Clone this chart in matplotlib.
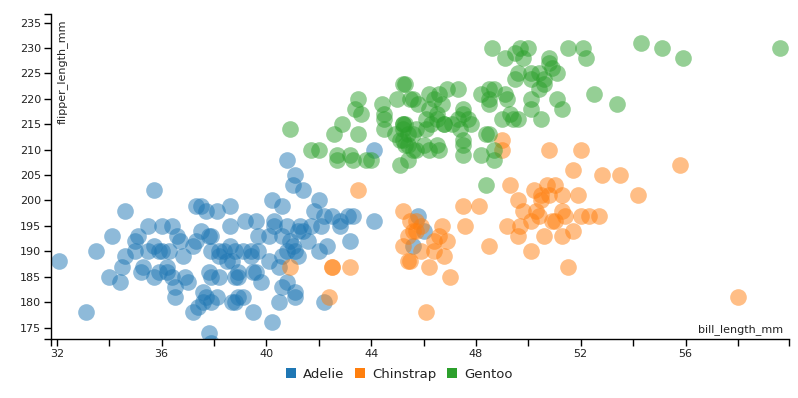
import matplotlib
matplotlib.use("Agg")
import matplotlib.pyplot as plt
from matplotlib.patches import Patch

# values (bill_length_mm, flipper_length_mm)
species = ["Adelie", "Chinstrap", "Gentoo"]
colors = ["#1f77b4", "#ff7f0e", "#2ca02c"]

adelie_bill = [
    32.1, 33.1, 33.5, 34.1, 34.6, 34.0, 34.4, 34.5, 34.6, 35.0, 35.1, 35.2, 35.0, 35.5,
    35.7, 36.0, 36.4, 35.5, 35.7, 35.9, 36.0, 36.3, 35.3, 35.7, 36.2, 36.2, 35.9, 36.6,
    36.7, 36.8, 36.4, 36.5, 36.5, 36.9, 37.0, 37.2, 37.4, 37.6, 37.7, 37.9, 37.6, 38.1,
    37.8, 37.9, 37.2, 37.3, 37.5, 37.8, 37.9, 37.3, 37.5, 37.7, 38.1, 38.6, 38.6, 37.9,
    38.2, 38.4, 38.6, 38.2, 38.5, 37.8, 38.2, 37.9, 38.8, 38.8,
    41.1, 41.0, 41.4, 40.2, 40.6, 42.0, 41.8, 42.2, 42.5, 42.8, 43.1, 43.3, 42.8, 44.1,
    43.2, 42.3, 42.0, 39.2, 39.6, 39.7, 40.3, 40.3, 40.8, 41.3, 41.4, 41.2, 41.7, 42.1,
    40.1, 40.6, 40.9, 41.0, 41.1, 41.2, 41.6, 40.8, 40.6, 38.8, 39.1, 39.4, 39.7, 38.7,
    39.4, 40.1, 40.5, 38.9, 39.5, 39.6, 39.8, 38.9, 40.8, 40.6, 41.1, 41.1, 38.9, 39.1,
    38.7, 40.5, 42.2, 39.5, 40.2, 40.8, 44.1, 45.8, 46.0, 45.6,
]
adelie_flipper = [
    188, 178, 190, 193, 198, 185, 184, 187, 189, 192, 193, 186, 190, 195,
    202, 195, 195, 190, 191, 190, 190, 190, 187, 185, 187, 186, 186, 193,
    192, 189, 185, 183, 181, 185, 184, 178, 179, 180, 181, 180, 182, 181,
    174, 172, 191, 192, 194, 193, 193, 199, 199, 198, 198, 199, 195, 190,
    190, 190, 191, 189, 188, 186, 185, 185, 185, 180,
    205, 203, 202, 200, 199, 200, 198, 197, 197, 196, 197, 197, 195, 196,
    192, 191, 190, 196, 196, 193, 196, 195, 195, 195, 194, 194, 195, 195,
    193, 193, 192, 191, 190, 189, 192, 190, 189, 190, 190, 190, 190, 188,
    189, 188, 187, 186, 186, 186, 184, 185, 184, 183, 182, 181, 181, 181,
    180, 180, 180, 178, 176, 208, 210, 197, 194, 191,
]

chinstrap_bill = [
    43.5, 40.9, 42.5, 42.5, 43.2, 42.4, 45.2, 45.5, 45.6, 45.2, 45.4, 45.7, 45.7, 45.9,
    45.4, 45.9, 45.5, 46.2, 46.7, 46.6, 46.4, 46.9, 46.4, 46.8, 47.0, 46.1, 47.5, 48.1,
    47.6, 48.5, 49.3, 49.6, 50.2, 50.5, 50.7, 51.0, 50.8, 50.5, 51.3, 51.9, 51.7, 49.8,
    50.3, 50.4, 50.1, 49.7, 49.2, 49.6, 50.6, 50.9, 51.0, 51.3, 51.4, 51.3, 51.7, 52.0,
    52.3, 50.1, 51.5, 52.8, 53.5, 54.2, 52.7, 55.8, 58.0, 49.0, 49.0, 50.8, 52.0,
]
chinstrap_flipper = [
    202, 187, 187, 187, 187, 181, 198, 196, 194, 191, 188, 196, 194, 195,
    193, 190, 188, 187, 195, 193, 192, 192, 190, 189, 185, 178, 199, 199,
    195, 191, 203, 200, 202, 201, 203, 203, 201, 200, 201, 201, 206, 198,
    198, 197, 196, 195, 195, 193, 193, 196, 196, 198, 197, 193, 194, 197,
    197, 190, 187, 205, 205, 201, 197, 207, 181, 212, 210, 210, 210,
]

gentoo_bill = [
    48.4, 52.1, 52.2, 54.3, 55.1, 55.9, 59.6, 52.5, 53.4, 48.6, 49.1, 49.5, 49.7, 50.0,
    49.8, 51.5, 50.8, 50.8, 49.6, 49.5, 50.1, 50.1, 50.4, 50.6, 51.1, 50.9, 50.4, 50.6,
    50.1, 50.1, 51.1, 51.3, 50.5, 49.3, 49.4, 49.0, 49.6, 48.2, 48.5, 48.7, 48.5, 48.5,
    49.1, 49.2, 47.5, 47.5, 47.3, 46.9, 47.3, 46.6, 46.2, 46.4, 46.7, 45.8, 45.6, 45.3,
    46.2, 46.5, 46.8, 46.8, 46.5, 46.1, 46.3, 46.1, 47.1, 47.4, 47.7, 47.8, 47.5, 47.5,
    45.3, 45.4, 45.3, 45.7, 45.7, 46.0, 46.2, 46.6, 46.5, 47.5, 48.2, 48.4, 48.7, 48.7,
    48.5,
    40.9, 41.7, 42.0, 42.6, 42.9, 42.7, 42.7, 43.2, 43.3, 43.8, 44.0, 43.5, 43.5, 43.4,
    43.6, 44.4, 44.5, 44.5, 44.5, 45.2, 45.0, 45.5, 45.2, 45.2, 45.2, 44.9, 45.1, 45.2,
    45.4, 45.1, 45.4, 45.6, 45.6,
]
gentoo_flipper = [
    203, 230, 228, 231, 230, 228, 230, 221, 219, 230, 228, 229, 230, 230,
    228, 230, 228, 227, 225, 224, 225, 224, 225, 224, 225, 226, 222, 223,
    220, 218, 220, 218, 216, 217, 216, 216, 216, 221, 222, 222, 220, 219,
    221, 220, 218, 217, 216, 222, 222, 221, 221, 220, 219, 219, 220, 223,
    218, 217, 215, 215, 216, 216, 215, 214, 215, 214, 216, 215, 212, 211,
    215, 213, 211, 214, 210, 211, 210, 210, 211, 209, 209, 213, 208, 210,
    213,
    214, 210, 210, 213, 215, 209, 208, 209, 208, 208, 208, 213, 220, 218,
    217, 219, 217, 216, 214, 223, 220, 220, 215, 215, 214, 213, 212, 212,
    211, 207, 208, 210, 213,
]

bills = [adelie_bill, chinstrap_bill, gentoo_bill]
flippers = [adelie_flipper, chinstrap_flipper, gentoo_flipper]

text_color = "#222222"

fig = plt.figure(figsize=(7.98, 3.98), dpi=100)
ax = fig.add_axes([51 / 798, 59 / 398, 738 / 798, 325 / 398])

for name, col, bx, fy in zip(species, colors, bills, flippers):
    ax.scatter(bx, fy, s=144, color=col, alpha=0.5, linewidths=0, label=name)

xmin, xmax = 31.78, 59.95
ymin, ymax = 172.74, 236.7
ax.set_xlim(xmin, xmax)
ax.set_ylim(ymin, ymax)

# ticks every 2 on x (labels every 4), every 5 on y, plus end caps like d3
xt = list(range(32, 60, 2))
ax.set_xticks([xmin] + xt + [xmax])
ax.set_xticklabels([""] + [str(t) if t % 4 == 0 else "" for t in xt] + [""])
yt = list(range(175, 236, 5))
ax.set_yticks([ymin] + yt + [ymax])
ax.set_yticklabels([""] + [str(t) for t in yt] + [""])
ax.set_xlim(xmin, xmax)
ax.set_ylim(ymin, ymax)

ax.tick_params(axis="both", direction="out", length=5, width=1, colors="black",
               labelcolor=text_color, labelsize=8, pad=2)
for side in ["top", "right"]:
    ax.spines[side].set_visible(False)
for side in ["left", "bottom"]:
    ax.spines[side].set_linewidth(1)
    ax.spines[side].set_color("black")

ax.text(0.008, 0.984, "flipper_length_mm", transform=ax.transAxes, rotation=90,
        ha="left", va="top", fontsize=8, color=text_color)
ax.text(0.992, 0.012, "bill_length_mm", transform=ax.transAxes,
        ha="right", va="bottom", fontsize=8, color=text_color)

handles = [Patch(facecolor=c, edgecolor="none", label=n) for n, c in zip(species, colors)]
fig.legend(handles=handles, loc="center", bbox_to_anchor=(0.5, 0.06), ncol=3,
           frameon=False, fontsize=9.5, handlelength=0.8, handleheight=0.8,
           handletextpad=0.5, columnspacing=0.8, labelcolor=text_color)

fig.savefig("out.png", dpi=100)
